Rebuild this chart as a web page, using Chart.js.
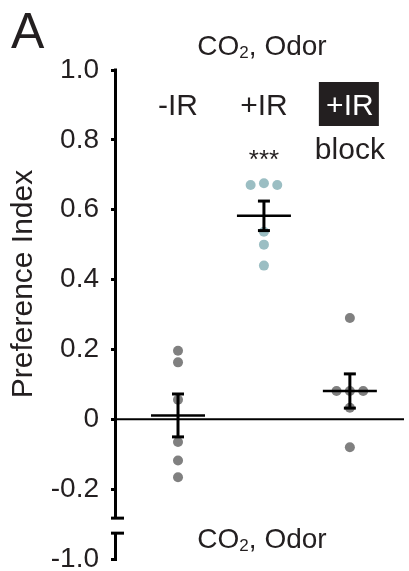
<!DOCTYPE html>
<html>
<head>
<meta charset="utf-8">
<script src="https://cdn.jsdelivr.net/npm/chart.js@4.4.0/dist/chart.umd.min.js"></script>
<style>
  body { margin: 0; background: #fff; }
  #wrap { width: 409px; height: 571px; }
</style>
</head>
<body>
<div id="wrap"><canvas id="prefChart" width="409" height="571"></canvas></div>
<script>
var conditions = ['-IR', '+IR', '+IR block'];
var noIR = [0.196, 0.163, 0.056, -0.065, -0.118, -0.166];
var withIR = [0.671, 0.676, 0.671, 0.537, 0.50, 0.44];
var irBlocked = [0.29, 0.081, 0.081, 0.081, 0.033, -0.08];
var yTicks = [-0.2, 0, 0.2, 0.4, 0.6, 0.8, 1.0];
var brokenAxisLabel = '-1.0';

var FONT = '"Liberation Sans", Arial, sans-serif';
var INK = '#231f20';
var Y_MIN = -0.4;          // bottom of the broken segment, labelled -1.0
var axisBreak = [-0.283, -0.326];

var groups = [
  { values: noIR, color: '#808080' },
  { values: withIR, color: '#9bbec3' },
  { values: irBlocked, color: '#808080' }
];

function mean(a) {
  return a.reduce(function (s, v) { return s + v; }, 0) / a.length;
}
function sem(a) {
  var m = mean(a);
  var ss = a.reduce(function (s, v) { return s + (v - m) * (v - m); }, 0);
  return Math.sqrt(ss / (a.length - 1)) / Math.sqrt(a.length);
}

// spread dots with (nearly) equal values side by side
function swarm(values, cx) {
  var pts = [], used = [];
  values.forEach(function (v, i) {
    if (used[i]) return;
    var cluster = [i];
    for (var j = i + 1; j < values.length; j++) {
      if (!used[j] && Math.abs(values[j] - v) < 0.02) cluster.push(j);
    }
    cluster.forEach(function (k, n) {
      used[k] = true;
      pts.push({ x: cx + (n - (cluster.length - 1) / 2) * 0.155, y: values[k] });
    });
  });
  return pts;
}

function line(ctx, x1, y1, x2, y2) {
  ctx.beginPath();
  ctx.moveTo(x1, y1);
  ctx.lineTo(x2, y2);
  ctx.stroke();
}

function drawCO2(ctx, cx, baseline) {
  var big = '28px ' + FONT, small = '17px ' + FONT;
  ctx.font = big;
  var wCO = ctx.measureText('CO').width;
  var wRest = ctx.measureText(', Odor').width;
  ctx.font = small;
  var w2 = ctx.measureText('2').width;
  var x0 = cx - (wCO + w2 + wRest) / 2;
  ctx.textAlign = 'left';
  ctx.textBaseline = 'alphabetic';
  ctx.font = big;
  ctx.fillText('CO', x0, baseline);
  ctx.font = small;
  ctx.fillText('2', x0 + wCO, baseline + 3);
  ctx.font = big;
  ctx.fillText(', Odor', x0 + wCO + w2, baseline);
}

var decorations = {
  id: 'decorations',
  beforeDatasetsDraw: function (chart) {
    var ctx = chart.ctx, y = chart.scales.y, area = chart.chartArea;
    ctx.save();
    ctx.strokeStyle = '#000';
    ctx.lineCap = 'butt';

    // zero line
    ctx.lineWidth = 2;
    var y0 = y.getPixelForValue(0);
    line(ctx, area.left - 6, y0, area.right, y0);

    // y axis with a break below -0.2
    ctx.lineWidth = 3;
    var ax = area.left - 1.5;
    var yTop = y.getPixelForValue(1.0) - 1.5;
    var yEnd = y.getPixelForValue(axisBreak[0]);
    var yRes = y.getPixelForValue(axisBreak[1]);
    var yBot = y.getPixelForValue(Y_MIN) + 1.5;
    line(ctx, ax, yTop, ax, yEnd);
    line(ctx, area.left - 6, yEnd, area.left + 7, yEnd);
    line(ctx, area.left - 6, yRes, area.left + 7, yRes);
    line(ctx, ax, yRes, ax, yBot);
    ctx.restore();
  },
  afterDatasetsDraw: function (chart) {
    var ctx = chart.ctx, x = chart.scales.x, y = chart.scales.y;
    ctx.save();
    ctx.strokeStyle = '#000';
    groups.forEach(function (g, i) {
      var cx = x.getPixelForValue(i + 1);
      var m = mean(g.values), e = sem(g.values);
      var ym = y.getPixelForValue(m);
      var yHi = y.getPixelForValue(m + e);
      var yLo = y.getPixelForValue(m - e);
      ctx.lineWidth = 2.5;
      line(ctx, cx - 27, ym, cx + 27, ym);
      ctx.lineWidth = 3;
      line(ctx, cx, yHi, cx, yLo);
      line(ctx, cx - 6, yHi, cx + 6, yHi);
      line(ctx, cx - 6, yLo, cx + 6, yLo);
    });
    ctx.restore();
  },
  afterDraw: function (chart) {
    var ctx = chart.ctx, x = chart.scales.x;
    ctx.save();
    ctx.fillStyle = INK;

    ctx.font = '50px ' + FONT;
    ctx.textAlign = 'left';
    ctx.textBaseline = 'alphabetic';
    ctx.fillText('A', 11, 48);

    drawCO2(ctx, 262, 55);
    drawCO2(ctx, 262, 548);

    // y axis title
    ctx.save();
    ctx.translate(32, 284);
    ctx.rotate(-Math.PI / 2);
    ctx.font = '30px ' + FONT;
    ctx.textAlign = 'center';
    ctx.fillText('Preference Index', 0, 0);
    ctx.restore();

    // condition headers
    var c1 = x.getPixelForValue(1), c2 = x.getPixelForValue(2), c3 = x.getPixelForValue(3);
    ctx.font = '30px ' + FONT;
    ctx.textAlign = 'center';
    ctx.fillText(conditions[0], c1, 115);
    ctx.fillText(conditions[1], c2, 115);
    ctx.fillRect(c3 - 31, 82, 60, 44);
    ctx.fillStyle = '#fff';
    ctx.fillText('+IR', c3, 115);
    ctx.fillStyle = INK;
    ctx.fillText('block', c3, 159);

    ctx.font = '26px ' + FONT;
    ctx.fillText('***', c2, 168);
    ctx.restore();
  }
};

var prefCtx = document.getElementById('prefChart').getContext('2d');
var prefChart = new Chart(prefCtx, {
  type: 'scatter',
  data: {
    datasets: groups.map(function (g, i) {
      return {
        label: conditions[i],
        data: swarm(g.values, i + 1),
        backgroundColor: g.color,
        borderWidth: 0,
        pointRadius: 5
      };
    })
  },
  options: {
    responsive: false,
    animation: false,
    layout: { padding: { top: 70, bottom: 12, left: 0, right: 0 } },
    plugins: {
      legend: { display: false },
      tooltip: { enabled: false }
    },
    scales: {
      x: {
        type: 'linear',
        display: false,
        min: 0.29,
        max: 3.63
      },
      y: {
        min: Y_MIN,
        max: 1.0,
        afterBuildTicks: function (scale) {
          scale.ticks = [Y_MIN].concat(yTicks).map(function (v) { return { value: v }; });
        },
        afterFit: function (scale) {
          scale.width = 117;
          scale.paddingTop = 0;
          scale.paddingBottom = 0;
        },
        border: { display: false },
        grid: {
          drawOnChartArea: false,
          tickLength: 6,
          tickWidth: 3,
          tickColor: '#000'
        },
        ticks: {
          padding: 12,
          color: INK,
          font: { family: FONT, size: 28 },
          callback: function (v) {
            if (v === Y_MIN) return brokenAxisLabel;
            return v === 0 ? '0' : v.toFixed(1);
          }
        }
      }
    }
  },
  plugins: [decorations]
});
</script>
</body>
</html>
